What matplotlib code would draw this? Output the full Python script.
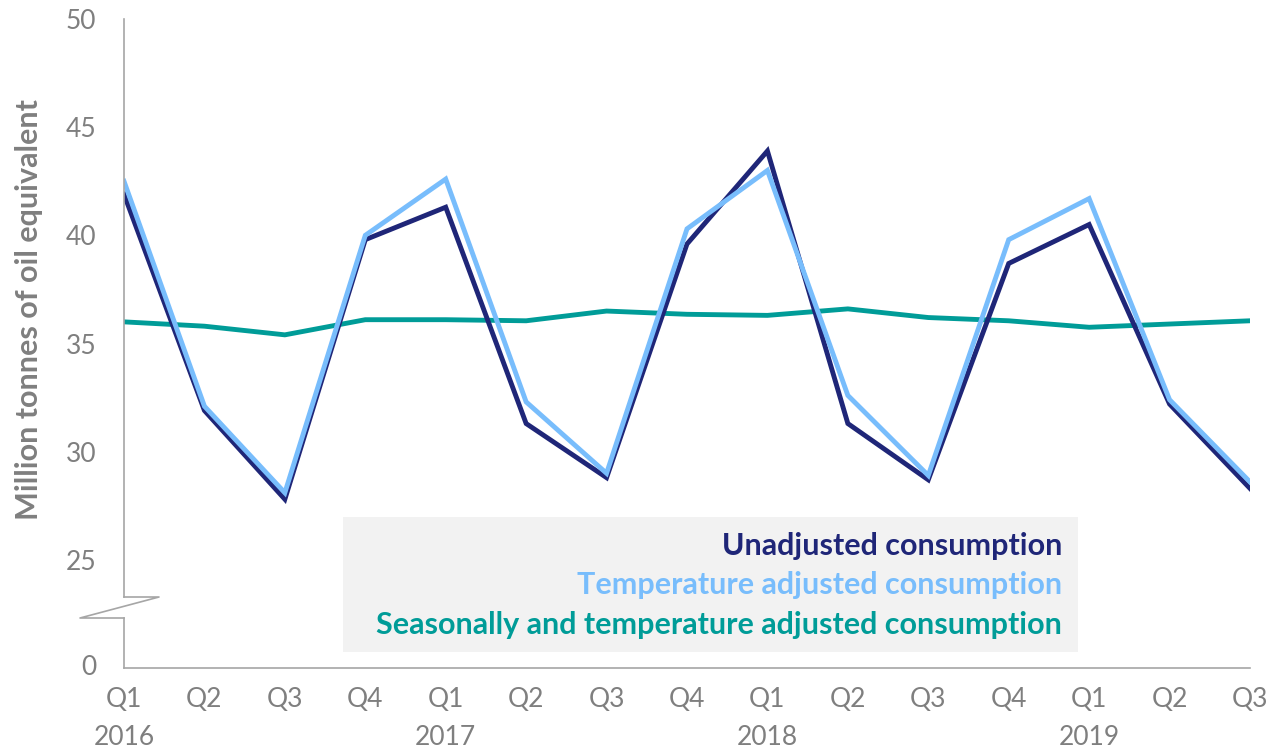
import matplotlib.pyplot as plt
from matplotlib.patches import Rectangle

plt.rcParams['font.family'] = ['Lato', 'DejaVu Sans']

# quarters from Q1 2016 to Q3 2019
quarters = ["Q1", "Q2", "Q3", "Q4"] * 3 + ["Q1", "Q2", "Q3"]
years = {0: "2016", 4: "2017", 8: "2018", 12: "2019"}

unadjusted = [41.9, 31.9, 27.8, 39.8, 41.3, 31.3, 28.8, 39.6,
              43.9, 31.3, 28.7, 38.7, 40.5, 32.2, 28.3]
temp_adjusted = [42.5, 32.1, 28.1, 40.0, 42.6, 32.3, 29.0, 40.3,
                 43.0, 32.6, 28.9, 39.8, 41.7, 32.4, 28.6]
seasonal_adjusted = [36.0, 35.8, 35.4, 36.1, 36.1, 36.05, 36.5, 36.35,
                     36.3, 36.6, 36.2, 36.05, 35.75, 35.9, 36.05]

y_ticks = [50, 45, 40, 35, 30, 25]

NAVY = "#1f2678"
LIGHT = "#78bdfc"
TEAL = "#009c98"
GREY = "#7f7f7f"

W, H = 1277, 751
fig = plt.figure(figsize=(W / 100, H / 100), dpi=100)
L, R, T, B = 124, 1250, 19, 668
ax = fig.add_axes([L / W, 1 - B / H, (R - L) / W, (B - T) / H])


def ax_xy(px, py):
    # figure pixel -> axes fraction
    return (px - L) / (R - L), (B - py) / (B - T)


x = list(range(len(quarters)))
ax.plot(x, seasonal_adjusted, color=TEAL, lw=3.5, solid_joinstyle="miter")
ax.plot(x, unadjusted, color=NAVY, lw=3.5, solid_joinstyle="miter")
ax.plot(x, temp_adjusted, color=LIGHT, lw=3.5, solid_joinstyle="miter")

# the axis below 25 is squashed: position 20 stands for 0
ax.set_ylim(20, 50)
ax.set_xlim(0, len(quarters) - 1)
ax.set_yticks(y_ticks + [20.15])
ax.set_yticklabels([str(v) for v in y_ticks] + ["0"])
ax.set_xticks(x)
ax.set_xticklabels([q + ("\n" + years[i] if i in years else "\n ")
                    for i, q in enumerate(quarters)],
                   linespacing=1.65)
ax.tick_params(length=0, labelsize=19, labelcolor=GREY, pad=14)
ax.tick_params(axis="y", pad=20)
for lab in ax.get_yticklabels():
    lab.set_horizontalalignment("right")

for s in ["top", "right", "left"]:
    ax.spines[s].set_visible(False)
ax.spines["bottom"].set_color("#a6a6a6")
ax.spines["bottom"].set_linewidth(1.2)

# left axis with break mark
kw = dict(transform=ax.transAxes, clip_on=False, color="#a6a6a6", lw=1.2)
ax.plot(*zip(ax_xy(L, T), ax_xy(L, 597)), **kw)
ax.plot(*zip(ax_xy(L, 597), ax_xy(159, 597), ax_xy(80, 618), ax_xy(L, 618)), **kw)
ax.plot(*zip(ax_xy(L, 618), ax_xy(L, B)), **kw)

ax.set_ylabel("Million tonnes of oil equivalent", fontsize=22,
              fontweight="bold", color=GREY)
ax.yaxis.set_label_coords(ax_xy(43, 0)[0], ax_xy(0, 310)[1])

# legend box
x0, y0 = ax_xy(343, 652)
x1, y1 = ax_xy(1078, 517)
ax.add_patch(Rectangle((x0, y0), x1 - x0, y1 - y0, transform=ax.transAxes,
                       facecolor="#f2f2f2", edgecolor="none", zorder=0.5))
legend_items = [("Unadjusted consumption", NAVY, 546),
                ("Temperature adjusted consumption", LIGHT, 585),
                ("Seasonally and temperature adjusted consumption", TEAL, 625)]
for label, col, py in legend_items:
    tx, ty = ax_xy(1062, py)
    ax.text(tx, ty, label, transform=ax.transAxes, ha="right", va="center",
            color=col, fontsize=22, fontweight="bold")

fig.savefig("out.png", dpi=100)
